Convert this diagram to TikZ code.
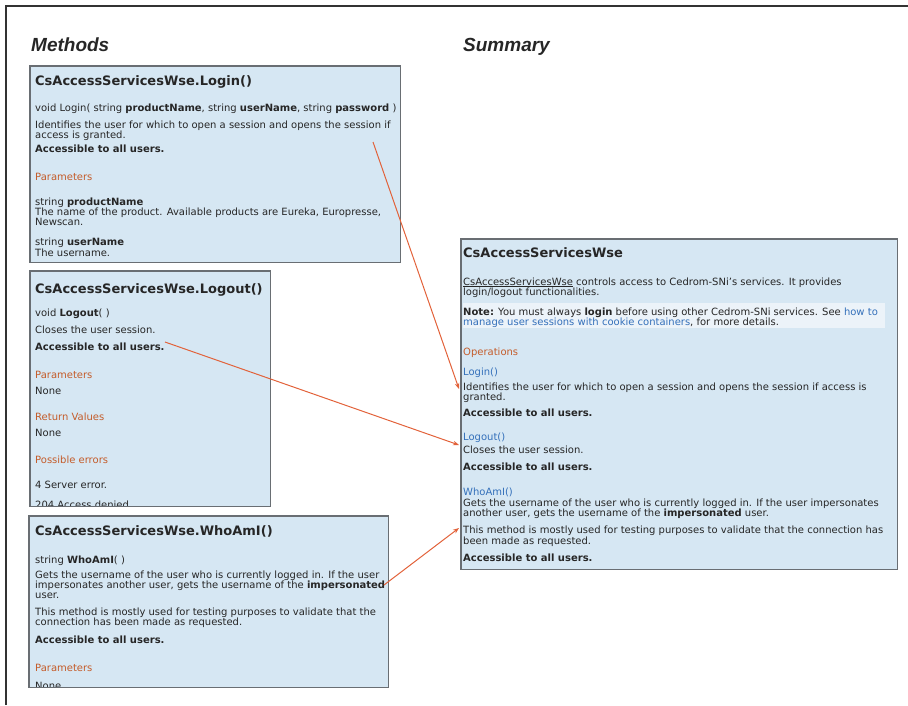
\documentclass[tikz,border=0pt]{standalone}
\usepackage{fontspec}
\setmainfont{DejaVu Sans}
\newfontfamily\headfont{Liberation Sans}
\usetikzlibrary{arrows.meta}

\definecolor{boxblue}{RGB}{214,231,243}
\definecolor{boxedge}{RGB}{105,110,115}
\definecolor{paramred}{RGB}{196,92,42}
\definecolor{linkblue}{RGB}{52,112,186}
\definecolor{notewhite}{RGB}{236,243,249}
\definecolor{callout}{RGB}{226,98,58}

\newcommand{\prm}[1]{{\color{paramred}#1}}
\newcommand{\lnk}[1]{{\color{linkblue}#1}}

\begin{document}
\begin{tikzpicture}[x=1pt, y=-1pt,
  every node/.style={inner sep=0pt, text=black!85},
  box/.style={fill=boxblue, anchor=north west},
  frame/.style={draw=boxedge, line width=1.3pt},
  title/.style={anchor=base west, font=\bfseries\fontsize{13}{15}\selectfont},
  body/.style={anchor=base west, font=\fontsize{10}{10}\selectfont},
  head/.style={anchor=base west, font=\headfont\bfseries\itshape\fontsize{19}{22}\selectfont},
  link/.style={draw=callout, line width=1pt, -{Stealth[length=6pt,width=4.5pt]}}]
    \useasboundingbox (0,0) rectangle (908,705);
    \draw[black!80, line width=1.5pt] (6,705) -- (6,6) -- (908,6);

    \node[head] (methods) at (31,51) {Methods};
    \node[head] (summaryhead) at (463,51) {Summary};

    % method pages
    \node[box, minimum width=370pt, minimum height=196pt] (login) at (30,66) {};
    \node[box, minimum width=240pt, minimum height=235pt] (logout) at (30,271) {};
    \node[box, minimum width=359pt, minimum height=171pt] (whoami) at (29,516) {};
    \node[box, minimum width=436pt, minimum height=330pt] (summary) at (461,239) {};
    \fill[notewhite] (463,303) rectangle (885,328);

    \begin{scope}
      \clip (login.north west) rectangle (login.south east);
      \node[title] (login-title) at (35,85) {CsAccessServicesWse.Login()};
      \foreach \ty/\tx [count=\i] in {
          111/{void Login( string \textbf{productName}, string \textbf{userName}, string \textbf{password} )},
          128/{Identifies the user for which to open a session and opens the session if},
          138/{access is granted.},
          152/{\textbf{Accessible to all users.}},
          180/{\prm{Parameters}},
          205/{string \textbf{productName}},
          215/{The name of the product. Available products are Eureka, Europresse,},
          225/{Newscan.},
          245/{string \textbf{userName}},
          256/{The username.}}
        \node[body] (login-\i) at (35,\ty) {\tx};
    \end{scope}

    \begin{scope}
      \clip (logout.north west) rectangle (logout.south east);
      \node[title] (logout-title) at (35,293) {CsAccessServicesWse.Logout()};
      \foreach \ty/\tx [count=\i] in {
          316/{void \textbf{Logout}( )},
          333/{Closes the user session.},
          350/{\textbf{Accessible to all users.}},
          378/{\prm{Parameters}},
          394/{None},
          420/{\prm{Return Values}},
          436/{None},
          463/{\prm{Possible errors}},
          488/{4 Server error.},
          508/{204 Access denied.}}
        \node[body] (logout-\i) at (35,\ty) {\tx};
    \end{scope}

    \begin{scope}
      \clip (whoami.north west) rectangle (whoami.south east);
      \node[title] (whoami-title) at (35,535) {CsAccessServicesWse.WhoAmI()};
      \foreach \ty/\tx [count=\i] in {
          563/{string \textbf{WhoAmI}( )},
          578/{Gets the username of the user who is currently logged in. If the user},
          588/{impersonates another user, gets the username of the \textbf{impersonated}},
          598/{user.},
          615/{This method is mostly used for testing purposes to validate that the},
          625/{connection has been made as requested.},
          643/{\textbf{Accessible to all users.}},
          671/{\prm{Parameters}},
          689/{None}}
        \node[body] (whoami-\i) at (35,\ty) {\tx};
    \end{scope}

    % summary page
    \node[title] (summary-title) at (463,257) {CsAccessServicesWse};
    \foreach \ty/\tx [count=\i] in {
        285/{\underline{CsAccessServicesWse} controls access to Cedrom-SNi's services. It provides},
        295/{login/logout functionalities.},
        315/{\textbf{Note:} You must always \textbf{login} before using other Cedrom-SNi services. See \lnk{how to}},
        325/{\lnk{manage user sessions with cookie containers}, for more details.},
        355/{\prm{Operations}},
        375/{\lnk{Login()}},
        390/{Identifies the user for which to open a session and opens the session if access is},
        400/{granted.},
        416/{\textbf{Accessible to all users.}},
        440/{\lnk{Logout()}},
        453/{Closes the user session.},
        470/{\textbf{Accessible to all users.}},
        495/{\lnk{WhoAmI()}},
        506/{Gets the username of the user who is currently logged in. If the user impersonates},
        516/{another user, gets the username of the \textbf{impersonated} user.},
        533/{This method is mostly used for testing purposes to validate that the connection has},
        544/{been made as requested.},
        561/{\textbf{Accessible to all users.}}}
      \node[body] (summary-\i) at (463,\ty) {\tx};

    \foreach \b in {login,logout,whoami,summary}
      \draw[frame] (\b.north west) rectangle (\b.south east);

    % callouts
    \coordinate (fromlogin) at (373,142);
    \coordinate (fromlogout) at (165,342);
    \coordinate (fromwhoami) at (384,585);
    \coordinate (tologin) at (459,389);
    \coordinate (tologout) at (459,445);
    \coordinate (towhoami) at (459,528);
    \draw[link] (fromlogin) -- (tologin);
    \draw[link] (fromlogout) -- (tologout);
    \draw[link] (fromwhoami) -- (towhoami);
\end{tikzpicture}
\end{document}
